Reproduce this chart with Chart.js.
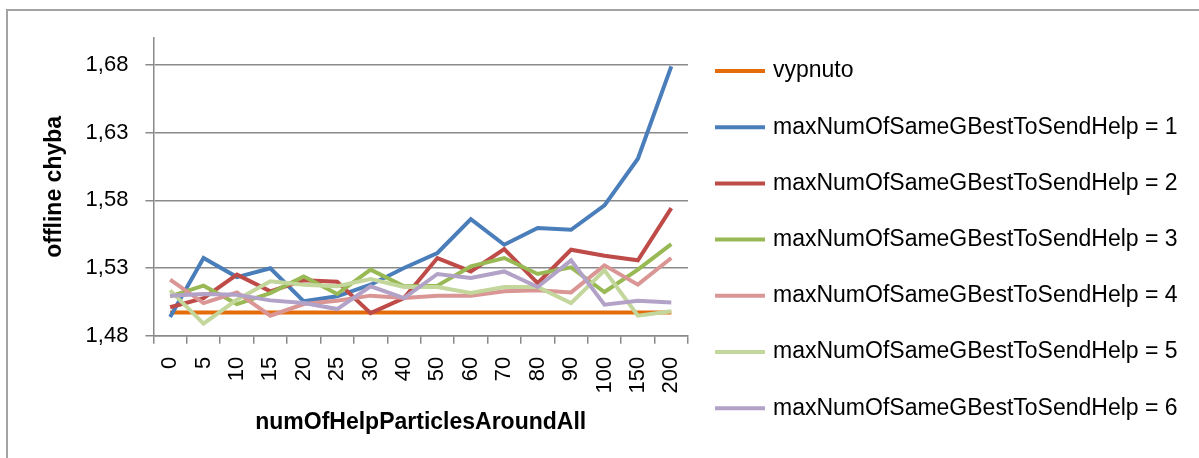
<!DOCTYPE html>
<html>
<head>
<meta charset="utf-8">
<script src="https://cdn.jsdelivr.net/npm/chart.js@4/dist/chart.umd.min.js"></script>
<style>
  body { margin: 0; background: #fff; }
  #wrap { position: relative; width: 1199px; height: 458px; }
  #frame { position: absolute; left: 6px; top: 9px; width: 1200px; height: 460px;
           border-left: 2px solid #a3a3a3; border-top: 2px solid #a3a3a3; pointer-events: none; }
</style>
</head>
<body>
<div id="wrap">
  <canvas id="graf" width="1199" height="458"></canvas>
  <div id="frame"></div>
</div>
<script>
// numOfHelpParticlesAroundAll
var kategorie = ['0', '5', '10', '15', '20', '25', '30', '40', '50', '60', '70', '80', '90', '100', '150', '200'];

var vypnuto = [1.4972, 1.4972, 1.4972, 1.4972, 1.4972, 1.4972, 1.4972, 1.4972,
               1.4972, 1.4972, 1.4972, 1.4972, 1.4972, 1.4972, 1.4972, 1.4972];
var help1 = [1.4938, 1.5374, 1.5233, 1.5298, 1.5054, 1.5091, 1.5177, 1.5300,
             1.5411, 1.5662, 1.5472, 1.5596, 1.5583, 1.5763, 1.6108, 1.6790];
var help2 = [1.5010, 1.5078, 1.5251, 1.5128, 1.5209, 1.5199, 1.4967, 1.5078,
             1.5374, 1.5275, 1.5440, 1.5189, 1.5435, 1.5391, 1.5357, 1.5743];
var help3 = [1.5091, 1.5170, 1.5034, 1.5115, 1.5238, 1.5108, 1.5288, 1.5165,
             1.5170, 1.5312, 1.5374, 1.5256, 1.5305, 1.5123, 1.5288, 1.5477];
var help4 = [1.5214, 1.5041, 1.5120, 1.4948, 1.5034, 1.5059, 1.5096, 1.5078,
             1.5096, 1.5096, 1.5128, 1.5135, 1.5120, 1.5320, 1.5177, 1.5374];
var help5 = [1.5135, 1.4889, 1.5066, 1.5202, 1.5177, 1.5165, 1.5219, 1.5160,
             1.5160, 1.5115, 1.5160, 1.5160, 1.5041, 1.5283, 1.4948, 1.4980];
var help6 = [1.5096, 1.5108, 1.5103, 1.5061, 1.5041, 1.4997, 1.5165, 1.5078,
             1.5256, 1.5226, 1.5275, 1.5160, 1.5357, 1.5029, 1.5059, 1.5046];

var osaY = [1.48, 1.53, 1.58, 1.63, 1.68];

var nazvy = ['vypnuto',
             'maxNumOfSameGBestToSendHelp = 1',
             'maxNumOfSameGBestToSendHelp = 2',
             'maxNumOfSameGBestToSendHelp = 3',
             'maxNumOfSameGBestToSendHelp = 4',
             'maxNumOfSameGBestToSendHelp = 5',
             'maxNumOfSameGBestToSendHelp = 6'];
var barvy = ['#e46c0a', '#4a7ebb', '#be4b48', '#98b954', '#d99694', '#c3d69b', '#b3a2c7'];
var hodnoty = [vypnuto, help1, help2, help3, help4, help5, help6];

var seda = '#8a8a8a';
var pismo = "'Liberation Sans', Arial, sans-serif";
Chart.defaults.font.family = pismo;
Chart.defaults.font.size = 22;
Chart.defaults.color = '#000';

// legenda vpravo, jedna polozka pod druhou (vestavena se sem nevejde)
var legendaVpravo = {
    id: 'legendaVpravo',
    afterDraw: function(chart) {
        var c = chart.ctx;
        var x0 = chart.chartArea.right + 27;
        c.save();
        c.font = '23px ' + pismo;
        c.textBaseline = 'middle';
        c.fillStyle = '#000';
        chart.data.datasets.forEach(function(ds, i) {
            var y = 71 + i * 56.2;
            c.strokeStyle = ds.borderColor;
            c.lineWidth = 4;
            c.beginPath();
            c.moveTo(x0, y);
            c.lineTo(x0 + 50, y);
            c.stroke();
            c.fillText(ds.label, x0 + 58, y);
        });
        c.restore();
    }
};

var datasets = hodnoty.map(function(data, i) {
    return {
        label: nazvy[i],
        data: data,
        borderColor: barvy[i],
        backgroundColor: barvy[i],
        borderWidth: 4,
        pointRadius: 0,
        tension: 0,
        order: hodnoty.length - i   // later series drawn on top
    };
});

var ctx = document.getElementById('graf').getContext('2d');
var graf = new Chart(ctx, {
    type: 'line',
    data: { labels: kategorie, datasets: datasets },
    options: {
        responsive: false,
        animation: false,
        layout: { padding: { left: 14, top: 38, right: 511, bottom: 22 } },
        plugins: {
            tooltip: { enabled: false },
            legend: { display: false }
        },
        scales: {
            x: {
                offset: true,
                grid: { display: true, drawOnChartArea: false, drawTicks: true, tickLength: 8,
                        offset: true, color: seda, lineWidth: 1.5 },
                border: { color: seda, width: 1.5 },
                ticks: { minRotation: 90, maxRotation: 90, autoSkip: false, padding: 13 },
                title: { display: true, text: 'numOfHelpParticlesAroundAll',
                         font: { size: 23, weight: 'bold' }, padding: { top: 2, bottom: 0 } }
            },
            y: {
                min: 1.48,
                max: 1.70,
                afterBuildTicks: function(scale) {
                    scale.ticks = osaY.map(function(v) { return { value: v }; });
                },
                grid: { color: seda, lineWidth: 1.5, tickLength: 8 },
                border: { color: seda, width: 1.5 },
                ticks: {
                    padding: 17,
                    callback: function(v) { return v.toFixed(2).replace('.', ','); }
                },
                title: { display: true, text: 'offline chyba',
                         font: { size: 23, weight: 'bold' }, padding: { top: 27, bottom: 0 } }
            }
        }
    },
    plugins: [legendaVpravo]
});
</script>
</body>
</html>
